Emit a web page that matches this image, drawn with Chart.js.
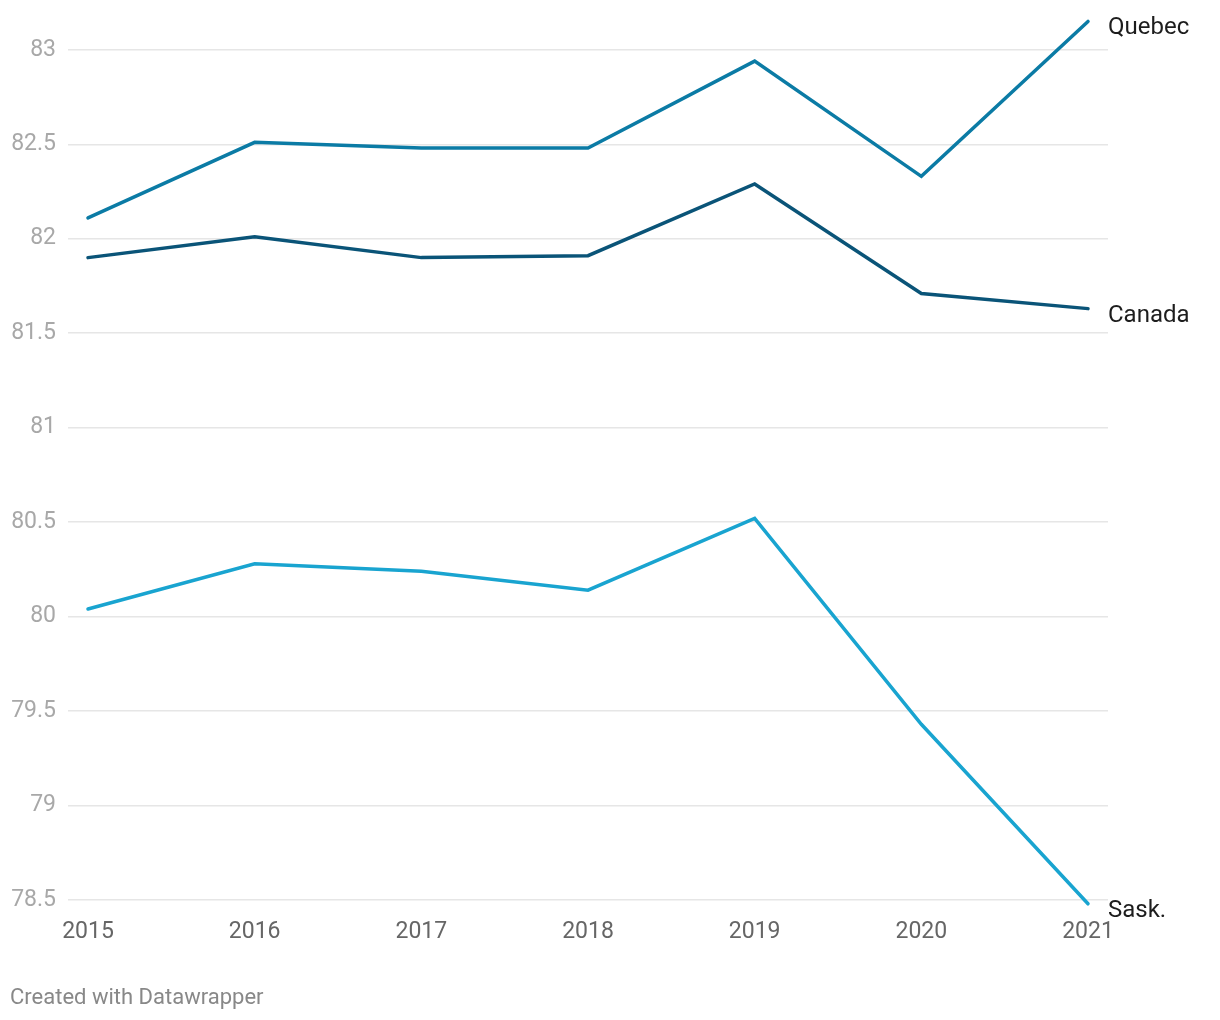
<!DOCTYPE html>
<html>
<head>
<meta charset="utf-8">
<script src="https://cdn.jsdelivr.net/npm/chart.js@4/dist/chart.umd.min.js"></script>
<style>
  html, body { margin: 0; padding: 0; background: #fff; }
  #wrap { position: relative; width: 1220px; height: 1020px; }
  #credit { position: absolute; left: 10px; top: 984px; font: 22px Roboto, sans-serif; color: #888; }
</style>
</head>
<body>
<div id="wrap">
  <canvas id="c" width="1220" height="1020"></canvas>
  <div id="credit">Created with Datawrapper</div>
</div>
<script>
const years = [2015, 2016, 2017, 2018, 2019, 2020, 2021];
const quebec = [82.11, 82.51, 82.48, 82.48, 82.94, 82.33, 83.15];
const canada = [81.90, 82.01, 81.90, 81.91, 82.29, 81.71, 81.63];
const sask = [80.04, 80.28, 80.24, 80.14, 80.52, 79.43, 78.48];
const yTicks = [78.5, 79, 79.5, 80, 80.5, 81, 81.5, 82, 82.5, 83];
const seriesNames = ["Quebec", "Canada", "Sask."];

const mk = (arr) => years.map((y, i) => ({ x: y, y: arr[i] }));

const endLabels = {
  id: 'endLabels',
  afterDatasetsDraw(chart) {
    const ctx = chart.ctx;
    ctx.save();
    ctx.font = '24px Roboto, sans-serif';
    ctx.fillStyle = '#1d1d1d';
    ctx.textAlign = 'left';
    ctx.textBaseline = 'middle';
    chart.data.datasets.forEach((ds, i) => {
      const meta = chart.getDatasetMeta(i);
      const pt = meta.data[meta.data.length - 1];
      ctx.fillText(ds.label, pt.x + 20, pt.y + 7);
    });
    ctx.restore();
  }
};

new Chart(document.getElementById('c'), {
  type: 'line',
  data: {
    datasets: [
      { label: seriesNames[0], data: mk(quebec), borderColor: '#0b7ba5', borderWidth: 3.5, clip: false },
      { label: seriesNames[1], data: mk(canada), borderColor: '#0a5478', borderWidth: 3.5, clip: false },
      { label: seriesNames[2], data: mk(sask), borderColor: '#19a4d0', borderWidth: 3.5, clip: false }
    ]
  },
  options: {
    responsive: false,
    animation: false,
    events: [],
    elements: { point: { radius: 0 }, line: { tension: 0, borderCapStyle: 'round', borderJoinStyle: 'miter' } },
    layout: { padding: { top: 12, right: 112, bottom: 68, left: 0 } },
    plugins: { legend: { display: false }, tooltip: { enabled: false } },
    scales: {
      x: {
        type: 'linear',
        min: 2014.88,
        max: 2021.12,
        afterBuildTicks(s) { s.ticks = years.map(v => ({ value: v })); },
        afterFit(s) { s.height = 52; s.paddingLeft = 0; s.paddingRight = 0; },
        grid: { display: false, drawTicks: false },
        border: { display: false },
        ticks: { padding: 18, color: '#666', font: { family: 'Roboto', size: 23 }, callback: v => String(v), maxRotation: 0, autoSkip: false }
      },
      y: {
        min: 78.5,
        max: 83.2,
        afterBuildTicks(s) { s.ticks = yTicks.map(v => ({ value: v })); },
        afterFit(s) { s.width = 68; s.paddingTop = 0; s.paddingBottom = 0; },
        grid: { color: '#e6e6e6', lineWidth: 1.5, drawTicks: false },
        border: { display: false },
        ticks: { padding: 12, color: '#a8a8a8', font: { family: 'Roboto', size: 23 }, callback: v => String(v) }
      }
    }
  },
  plugins: [endLabels]
});
</script>
</body>
</html>
